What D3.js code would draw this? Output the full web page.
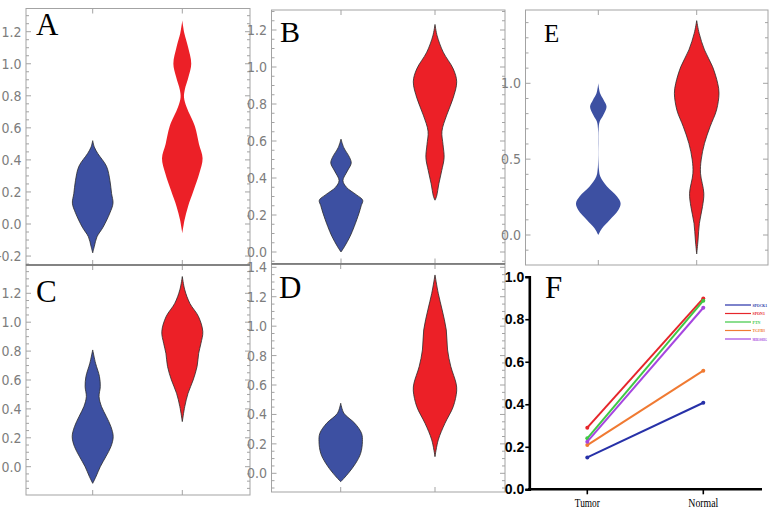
<!DOCTYPE html>
<html><head><meta charset="utf-8">
<script src="https://cdn.jsdelivr.net/npm/d3@7"></script>
<style>
body{margin:0;background:#fff}
svg{display:block}
</style></head><body>
<svg id="c" width="771" height="510"></svg>
<script>
// ---------------- DATA ----------------
const groups = ["Tumor", "Normal"];

// Violin density profiles: [value, relative density (0..1)]
const violinA_Tumor  = [[0.52,0],[0.48,0.08],[0.44,0.25],[0.36,0.68],[0.27,0.85],[0.19,0.93],[0.13,1.0],[0.07,0.85],[-0.02,0.51],[-0.08,0.21],[-0.14,0.08],[-0.18,0]];
const violinA_Normal = [[1.27,0],[1.19,0.1],[1.106,0.28],[1.0,0.44],[0.92,0.31],[0.836,0.12],[0.79,0.085],[0.73,0.21],[0.61,0.62],[0.50,0.82],[0.41,1.0],[0.316,0.84],[0.21,0.56],[0.108,0.28],[0.025,0.11],[-0.058,0]];

const violinB_Tumor  = [[0.61,0],[0.564,0.13],[0.51,0.4],[0.48,0.47],[0.437,0.29],[0.386,0.09],[0.35,0.25],[0.31,0.7],[0.28,1.0],[0.25,0.93],[0.21,0.83],[0.138,0.61],[0.085,0.42],[0.031,0.17],[0.0,0]];
const violinB_Normal = [[1.23,0],[1.168,0.1],[1.08,0.38],[0.99,0.84],[0.92,1.0],[0.83,0.83],[0.74,0.54],[0.653,0.32],[0.58,0.37],[0.51,0.42],[0.44,0.31],[0.37,0.18],[0.30,0.07],[0.28,0]];

const violinC_Tumor  = [[0.808,0],[0.716,0.14],[0.624,0.33],[0.554,0.37],[0.485,0.31],[0.416,0.43],[0.346,0.67],[0.277,0.89],[0.208,1.0],[0.139,0.89],[0.069,0.64],[0.0,0.37],[-0.069,0.16],[-0.115,0]];
const violinC_Normal = [[1.316,0],[1.224,0.12],[1.13,0.37],[1.039,0.79],[0.935,1.0],[0.854,0.91],[0.785,0.8],[0.693,0.72],[0.6,0.53],[0.508,0.28],[0.416,0.12],[0.312,0]];

const violinD_Tumor  = [[0.476,0],[0.408,0.15],[0.34,0.65],[0.272,0.96],[0.215,1.0],[0.136,0.92],[0.068,0.69],[0.0,0.35],[-0.045,0.08],[-0.057,0]];
const violinD_Normal = [[1.348,0],[1.223,0.15],[1.11,0.33],[0.974,0.52],[0.838,0.58],[0.725,0.73],[0.612,0.97],[0.56,1.0],[0.453,0.84],[0.34,0.46],[0.227,0.15],[0.113,0]];

const violinE_Tumor  = [[1.0,0],[0.934,0.08],[0.89,0.24],[0.846,0.37],[0.79,0.22],[0.747,0.06],[0.70,0.015],[0.6,0.006],[0.5,0.006],[0.43,0.03],[0.385,0.09],[0.319,0.39],[0.253,0.84],[0.209,1.0],[0.165,0.9],[0.099,0.51],[0.044,0.17],[0.0,0]];
const violinE_Normal = [[1.413,0],[1.33,0.11],[1.22,0.35],[1.11,0.71],[1.0,0.94],[0.934,1.0],[0.824,0.89],[0.714,0.6],[0.604,0.35],[0.495,0.2],[0.407,0.17],[0.275,0.32],[0.187,0.26],[0.077,0.12],[-0.033,0.06],[-0.125,0]];

// tick labels
const ticksA = [-0.2, 0, 0.2, 0.4, 0.6, 0.8, 1.0, 1.2];
const ticksB = [0, 0.2, 0.4, 0.6, 0.8, 1.0, 1.2];
const ticksC = [0, 0.2, 0.4, 0.6, 0.8, 1.0, 1.2];
const ticksD = [0, 0.2, 0.4, 0.6, 0.8, 1.0, 1.2, 1.4];
const ticksE = [0, 0.5, 1.0];
const ticksF = [0, 0.2, 0.4, 0.6, 0.8, 1.0];

// Panel F: line chart
const fSeries = ["SPOCK1", "SPON1", "PTN", "TGFB3", "MIR100HG"];
const fTumor  = [0.15, 0.29, 0.24, 0.208, 0.224];
const fNormal = [0.407, 0.898, 0.887, 0.558, 0.854];

// ---------------- STYLE / LAYOUT ----------------
const BLUE = "#3d50a2", RED = "#ec2027";
const fColors = ["#2731a8", "#e6262b", "#3fc845", "#f07a32", "#a646e0"];
const tickFont = "'Liberation Sans Narrow','DejaVu Sans Condensed','Arial Narrow',sans-serif";
const serif = "'Liberation Serif','Times New Roman',serif";

const svg = d3.select("#c");

const panels = [
  {L:"A", box:[26,8.5,250,265], yr:[0,224,1.2,31.7], cx:[92.7,182.3], wmax:20.3, ticks:ticksA, minor:0.05,
   lab:[36,34.5,31], data:[violinA_Tumor, violinA_Normal], stroke:[true,false]},
  {L:"B", box:[271.5,10,505,263.5], yr:[0,252,1.2,30], cx:[341,435], wmax:21.7, ticks:ticksB, minor:0.05,
   lab:[280,42.3,30], data:[violinB_Tumor, violinB_Normal], stroke:[true,true]},
  {L:"E", box:[525.5,10,768,265], yr:[0,235,1.0,83.3], cx:[598.3,696.7], wmax:22.3, ticks:ticksE, minor:0.1,
   lab:[544,41.7,25], data:[violinE_Tumor, violinE_Normal], stroke:[false,true]},
  {L:"C", box:[26,265,250,495], yr:[0,466.7,1.2,293.3], cx:[92.7,182.3], wmax:20.5, ticks:ticksC, minor:0.05,
   lab:[36,302.3,31], data:[violinC_Tumor, violinC_Normal], stroke:[true,true]},
  {L:"D", box:[271.5,264,505,492], yr:[0,473.3,1.4,267.3], cx:[340.7,435], wmax:21.7, ticks:ticksD, minor:0.05,
   lab:[279,298.3,31], data:[violinD_Tumor, violinD_Normal], stroke:[true,true]}
];

const fmt = v => (v < 0 ? "-" + d3.format(".1f")(-v) : d3.format(".1f")(v));

panels.forEach(p => {
  const [x0,y0,x1,y1] = p.box;
  const y = d3.scaleLinear().domain([p.yr[0], p.yr[2]]).range([p.yr[1], p.yr[3]]);
  const x = d3.scalePoint().domain(groups).range(p.cx);
  const w = d3.scaleLinear().domain([0,1]).range([0,p.wmax]);
  const g = svg.append("g");

  // frame
  g.append("rect").attr("x",x0).attr("y",y0).attr("width",x1-x0).attr("height",y1-y0)
    .attr("fill","none").attr("stroke","#a3a3a3").attr("stroke-width",1);

  // minor + major ticks on left/right
  const vmin = y.invert(y1), vmax = y.invert(y0);
  const minors = d3.range(Math.ceil(vmin/p.minor)*p.minor, vmax, p.minor);
  minors.forEach(v => {
    const isMajor = p.ticks.some(t => Math.abs(t - v) < 1e-6);
    const len = isMajor ? 5 : 3;
    const yy = y(v);
    g.append("line").attr("x1",x0).attr("x2",x0+len).attr("y1",yy).attr("y2",yy).attr("stroke","#a3a3a3");
    g.append("line").attr("x1",x1).attr("x2",x1-len).attr("y1",yy).attr("y2",yy).attr("stroke","#a3a3a3");
  });
  // category ticks top / bottom
  groups.forEach(gr => {
    const xx = x(gr);
    g.append("line").attr("x1",xx).attr("x2",xx).attr("y1",y0).attr("y2",y0+5).attr("stroke","#a3a3a3");
    g.append("line").attr("x1",xx).attr("x2",xx).attr("y1",y1).attr("y2",y1-5).attr("stroke","#a3a3a3");
  });
  // tick labels
  p.ticks.forEach(t => {
    g.append("text").attr("x",x0-4.5).attr("y",y(t)).attr("dy","0.36em")
      .attr("text-anchor","end").attr("font-family",tickFont).attr("font-size",14)
      .attr("fill","#7d7d7d").text(fmt(t));
  });

  // violins
  const area = d3.area()
    .curve(d3.curveCatmullRom.alpha(0.5));
  p.data.forEach((prof, i) => {
    const cx = x(groups[i]);
    area.y(d => y(d[0])).x0(d => cx - w(d[1])).x1(d => cx + w(d[1]));
    g.append("path").attr("d", area(prof))
      .attr("fill", i === 0 ? BLUE : RED)
      .attr("stroke", p.stroke[i] ? "#2b2b2b" : "none")
      .attr("stroke-width", 0.8);
  });

  // panel letter
  g.append("text").attr("x",p.lab[0]).attr("y",p.lab[1]).attr("font-family",serif)
    .attr("font-size",p.lab[2]).attr("fill","#000").text(p.L);
});

// darker shared boundary between top and bottom rows
svg.append("line").attr("x1",26).attr("x2",250).attr("y1",265).attr("y2",265).attr("stroke","#707070").attr("stroke-width",1.6);
svg.append("line").attr("x1",271.5).attr("x2",505).attr("y1",264).attr("y2",264).attr("stroke","#707070").attr("stroke-width",1.6);

// ---------------- PANEL F ----------------
{
  const fy = d3.scaleLinear().domain([0,1]).range([489.3,276.7]);
  const fx = d3.scalePoint().domain(groups).range([587.3,703.3]);
  const axX0 = 529.3, axY = fy(0);
  const g = svg.append("g");

  const yAxis = d3.axisLeft(fy).tickValues(ticksF).tickFormat(d3.format(".1f")).tickSize(4).tickPadding(1);
  const ya = g.append("g").attr("transform",`translate(${axX0},0)`).call(yAxis);
  ya.select(".domain").attr("stroke","#000").attr("stroke-width",2.6);
  ya.selectAll(".tick line").attr("stroke","#000").attr("stroke-width",1.6);
  ya.selectAll(".tick text").attr("font-family","'Liberation Sans Narrow','Liberation Sans',Arial,sans-serif")
    .attr("font-weight","bold").attr("font-size",14).attr("fill","#000");

  g.append("line").attr("x1",axX0-1.3).attr("x2",762).attr("y1",axY).attr("y2",axY).attr("stroke","#000").attr("stroke-width",2.6);
  groups.forEach(gr => {
    g.append("line").attr("x1",fx(gr)).attr("x2",fx(gr)).attr("y1",axY).attr("y2",axY+5).attr("stroke","#000").attr("stroke-width",1.6);
    g.append("text").attr("x",fx(gr)).attr("y",507).attr("text-anchor","middle")
      .attr("font-family",serif).attr("font-size",12).attr("fill","#000")
      .attr("textLength", gr === "Tumor" ? 25 : 30).attr("lengthAdjust","spacingAndGlyphs").text(gr);
  });

  const line = d3.line().x(d => fx(d[0])).y(d => fy(d[1]));
  fSeries.forEach((s, i) => {
    const pts = [["Tumor", fTumor[i]], ["Normal", fNormal[i]]];
    g.append("path").attr("d", line(pts)).attr("fill","none").attr("stroke",fColors[i]).attr("stroke-width",2);
    pts.forEach(pt => g.append("circle").attr("cx",fx(pt[0])).attr("cy",fy(pt[1])).attr("r",2).attr("fill",fColors[i]));
  });

  // legend
  const ly = d3.scalePoint().domain(fSeries).range([305,339]);
  fSeries.forEach((s, i) => {
    g.append("line").attr("x1",725).attr("x2",751).attr("y1",ly(s)).attr("y2",ly(s)).attr("stroke",fColors[i]).attr("stroke-width",1.2);
    const t = g.append("text").attr("x",752.5).attr("y",ly(s)).attr("dy","0.35em").attr("font-family",serif)
      .attr("font-size",5).attr("font-weight","bold").attr("fill",fColors[i]).text(s);
    const len = t.node().getComputedTextLength();
    t.attr("textLength", Math.min(len * 0.78, 767 - 752.5)).attr("lengthAdjust","spacingAndGlyphs");
  });

  g.append("text").attr("x",545).attr("y",298.3).attr("font-family",serif).attr("font-size",31).attr("fill","#000").text("F");
}
</script>
</body></html>
